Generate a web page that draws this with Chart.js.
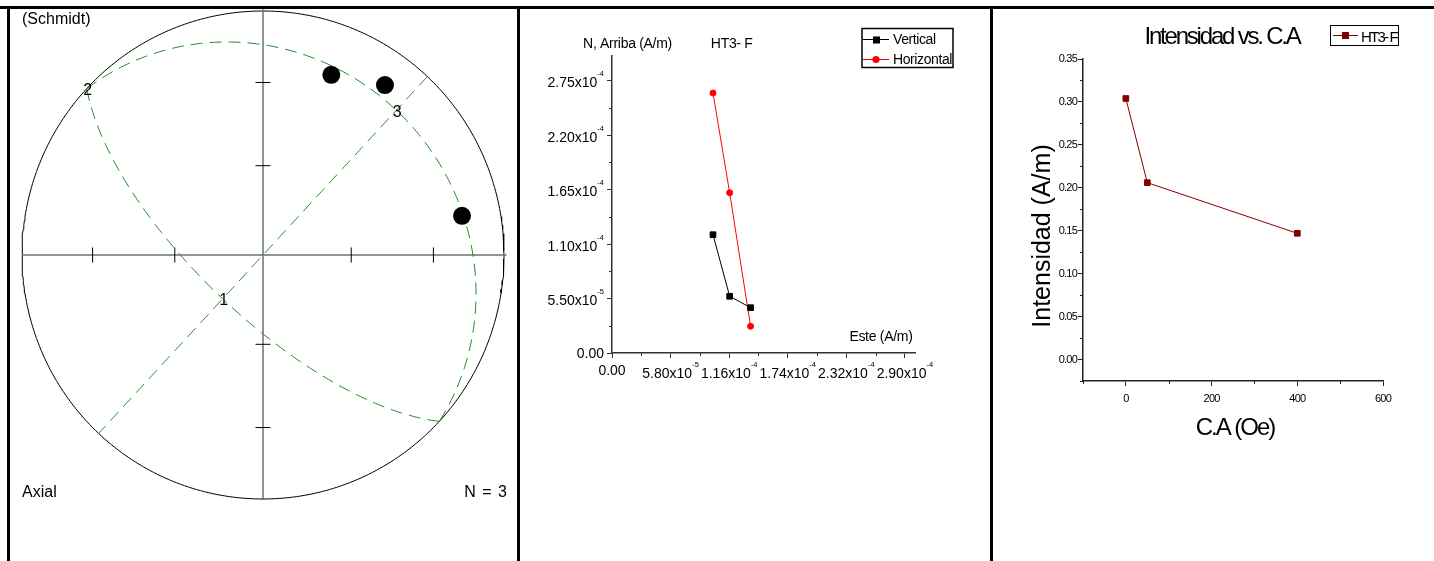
<!DOCTYPE html>
<html>
<head>
<meta charset="utf-8">
<title>HT3- F</title>
<script src="https://cdn.jsdelivr.net/npm/chart.js@4.4.1/dist/chart.umd.min.js"></script>
<style>
html,body{margin:0;padding:0;background:#fff;}
#wrap{position:relative;width:1434px;height:561px;overflow:hidden;background:#fff;}
#wrap canvas{position:absolute;left:0;top:0;}
.rule{position:absolute;background:#000;}
</style>
</head>
<body>
<div id="wrap">
  <canvas id="net" width="1434" height="561"></canvas>
  <canvas id="zij" width="1434" height="561"></canvas>
  <canvas id="int" width="1434" height="561"></canvas>
  <div class="rule" style="left:0;top:6px;width:1434px;height:3px"></div>
  <div class="rule" style="left:7px;top:6px;width:3px;height:555px"></div>
  <div class="rule" style="left:517px;top:6px;width:3px;height:555px"></div>
  <div class="rule" style="left:990px;top:6px;width:3px;height:555px"></div>
</div>
<script>
const FONT = '"Liberation Sans", Arial, Helvetica, sans-serif';

// ---------- Panel 1: Schmidt net (equal area, lower hemisphere, axial data) ----------
const lineTrends  = [21, 36, 79];
const linePlunges = [22, 15, 17];
const axisNames   = ['1', '2', '3'];
const axisTrends  = [223, 313, 43];
const axisPlunges = [70, 0, 20];
const netTickDips = [30, 60];
const netCount    = 'N = 3';

// ---------- Panel 2: Zijderveld diagram ----------
const zijEast   = [1.0e-4, 1.165e-4, 1.372e-4];
const zijUp     = [1.195e-4, 5.73e-5, 4.58e-5];
const zijNorth  = [2.626e-4, 1.619e-4, 2.70e-5];
const zijXTicks = [0, 5.8e-5, 1.16e-4, 1.74e-4, 2.32e-4, 2.9e-4];
const zijYTicks = [0, 5.5e-5, 1.1e-4, 1.65e-4, 2.2e-4, 2.75e-4];
const zijSeries = ['Vertical', 'Horizontal'];

// ---------- Panel 3: Intensity vs. AF ----------
const afSteps   = [0, 50, 400];
const intensity = [0.304, 0.206, 0.147];
const intXTicks = [0, 200, 400, 600];
const intYTicks = [0, 0.05, 0.10, 0.15, 0.20, 0.25, 0.30, 0.35];
const intSeries = 'HT3- F';

// ---------- helpers ----------
const deg = Math.PI / 180;
function proj(trend, plunge) {
  const r = Math.SQRT2 * Math.sin((90 - plunge) * deg / 2);
  return {x: r * Math.sin(trend * deg), y: r * Math.cos(trend * deg)};
}
function greatCircle(poleTrend, polePlunge) {
  const t = poleTrend * deg, p = polePlunge * deg;
  const a = [Math.cos(t + Math.PI / 2), Math.sin(t + Math.PI / 2), 0];
  const b = [Math.sin(p) * Math.cos(t + Math.PI), Math.sin(p) * Math.sin(t + Math.PI), Math.cos(p)];
  const pts = [];
  for (let i = 0; i <= 180; i++) {
    const th = i * deg, c = Math.cos(th), s = Math.sin(th);
    const n = a[0] * c + b[0] * s, e = a[1] * c + b[1] * s;
    const d = Math.max(0, Math.min(1, a[2] * c + b[2] * s));
    const h = Math.hypot(n, e), r = Math.sqrt(1 - d);
    pts.push(h < 1e-9 ? {x: 0, y: 0} : {x: e / h * r, y: n / h * r});
  }
  return pts;
}
function seg(points, color, width) {
  return {data: points, showLine: true, pointRadius: 0, borderColor: color, borderWidth: width, clip: false, tension: 0};
}
const mids = (arr, min, max) => {
  const step = arr[1] - arr[0];
  const out = [arr[0] - step / 2];
  arr.forEach(v => out.push(v + step / 2));
  return out.filter(v => v >= min - 1e-12 && v <= max + 1e-12);
};
function minorTicks(id, xs, ys, len, color) {
  return {id, afterDraw(chart) {
    const {ctx, scales: {x, y}, chartArea: a} = chart;
    ctx.save(); ctx.strokeStyle = color; ctx.lineWidth = 1; ctx.beginPath();
    xs.forEach(v => { const px = Math.round(x.getPixelForValue(v)) + 0.5; ctx.moveTo(px, a.bottom); ctx.lineTo(px, a.bottom + len); });
    ys.forEach(v => { const py = Math.round(y.getPixelForValue(v)) + 0.5; ctx.moveTo(a.left, py); ctx.lineTo(a.left - len, py); });
    ctx.stroke(); ctx.restore();
  }};
}

// ---------- Chart 1: stereonet ----------
const netDatasets = [];
netDatasets.push({data: lineTrends.map((t, i) => proj(t, linePlunges[i])), showLine: false,
  pointRadius: 9, pointBackgroundColor: '#000', pointBorderColor: '#000', pointBorderWidth: 0, clip: false});
axisTrends.forEach((t, i) => {
  netDatasets.push({data: greatCircle(t, axisPlunges[i]), showLine: true, pointRadius: 0,
    borderColor: '#1e8c1e', borderWidth: 1, borderDash: [12, 7], clip: false, tension: 0});
});
const tickHalf = 0.031;
netTickDips.forEach(d => {
  const r = proj(0, d).y;
  [r, -r].forEach(v => {
    netDatasets.push(seg([{x: v, y: -tickHalf}, {x: v, y: tickHalf}], '#000', 1));
    netDatasets.push(seg([{x: -tickHalf, y: v}, {x: tickHalf, y: v}], '#000', 1));
  });
});
netDatasets.push(seg([{x: -1, y: 0}, {x: 1.011, y: 0}], '#707070', 1.5));
netDatasets.push(seg([{x: 0, y: 1.007}, {x: 0, y: -1.004}], '#707070', 1.5));
netDatasets.push(seg(Array.from({length: 361}, (_, i) => ({x: Math.sin(i * deg), y: Math.cos(i * deg)})), '#000', 1));

const netText = {id: 'netText', afterDatasetsDraw(chart) {
  const {ctx, scales: {x, y}} = chart;
  ctx.save();
  ctx.fillStyle = '#000'; ctx.font = '16px ' + FONT; ctx.textAlign = 'center'; ctx.textBaseline = 'middle';
  axisNames.forEach((n, i) => {
    const p = proj(axisTrends[i], axisPlunges[i]);
    ctx.fillText(n, x.getPixelForValue(p.x) + 1, y.getPixelForValue(p.y) + 2);
  });
  ctx.textBaseline = 'alphabetic'; ctx.textAlign = 'left';
  ctx.fillText('(Schmidt)', 22, 24);
  ctx.fillText('Axial', 22, 497);
  ctx.textAlign = 'right'; ctx.wordSpacing = '2px';
  ctx.fillText(netCount, 507, 497);
  ctx.restore();
}};

new Chart(document.getElementById('net'), {
  type: 'scatter',
  data: {datasets: netDatasets},
  options: {
    responsive: false, animation: false, devicePixelRatio: 1, events: [],
    layout: {padding: {left: 22, right: 930, top: 11, bottom: 62}},
    plugins: {legend: {display: false}, tooltip: {enabled: false}},
    scales: {
      x: {type: 'linear', display: false, min: -1, max: 1},
      y: {type: 'linear', display: false, min: -1, max: 1}
    }
  },
  plugins: [netText]
});

// ---------- Chart 2: Zijderveld ----------
const ZF = 14;
function drawSci(ctx, x, y, v, align, axis) {
  let base, sup = '';
  if (v === 0) base = '0.00';
  else { const e = Math.floor(Math.log10(v) + 1e-9); base = (v / Math.pow(10, e)).toFixed(2) + 'x10'; sup = String(e); }
  ctx.font = ZF + 'px ' + FONT; const wb = ctx.measureText(base).width;
  ctx.font = '7.5px ' + FONT; const ws = sup ? ctx.measureText(sup).width : 0;
  const total = wb + ws;
  const x0 = align === 'right' ? x - total : x - total / 2;
  const bl = axis === 'y' ? y + (sup ? 6.7 : 5) : y + (sup ? 25 : 22);
  ctx.textAlign = 'left'; ctx.textBaseline = 'alphabetic';
  ctx.font = ZF + 'px ' + FONT; ctx.fillText(base, x0, bl);
  if (sup) { ctx.font = '7.5px ' + FONT; ctx.fillText(sup, x0 + wb, bl - 11); }
}
const zijText = {id: 'zijText', afterDraw(chart) {
  const {ctx, scales: {x, y}, chartArea: a} = chart;
  ctx.save(); ctx.fillStyle = '#000'; ctx.letterSpacing = '0px';
  zijYTicks.forEach(v => drawSci(ctx, a.left - 8, y.getPixelForValue(v), v, 'right', 'y'));
  zijXTicks.forEach(v => drawSci(ctx, x.getPixelForValue(v), a.bottom, v, 'center', 'x'));
  ctx.letterSpacing = '-0.3px';
  ctx.font = '14px ' + FONT; ctx.textBaseline = 'alphabetic'; ctx.textAlign = 'center';
  ctx.fillText('N, Arriba (A/m)', 627.5, 47.5);
  ctx.fillText('HT3- F', 731.7, 47.5);
  ctx.textAlign = 'right';
  ctx.fillText('Este (A/m)', 912.5, 341);
  // legend
  ctx.strokeStyle = '#000'; ctx.lineWidth = 1.5;
  ctx.strokeRect(862, 28.5, 91, 39);
  const ds = chart.data.datasets;
  [39, 59].forEach((ly, i) => {
    const d = ds[i];
    ctx.strokeStyle = d.borderColor; ctx.lineWidth = 1;
    ctx.beginPath(); ctx.moveTo(863, ly + 0.5); ctx.lineTo(889, ly + 0.5); ctx.stroke();
    ctx.fillStyle = d.backgroundColor;
    if (d.pointStyle === 'rect') ctx.fillRect(873, ly - 2.5, 7, 7);
    else { ctx.beginPath(); ctx.arc(876, ly + 0.5, 3.6, 0, 2 * Math.PI); ctx.fill(); }
    ctx.fillStyle = '#000'; ctx.textAlign = 'left'; ctx.letterSpacing = '-0.4px';
    ctx.fillText(d.label, 893, ly + 5);
  });
  ctx.restore();
}};
const zijAxis = (ticksArr, horiz, min, max) => ({
  type: 'linear', min, max,
  afterBuildTicks(s) { s.ticks = ticksArr.map(v => ({value: v})); },
  afterFit(s) { if (horiz) s.height = 0; else s.width = 0; },
  grid: {display: true, drawOnChartArea: false, drawTicks: true, tickLength: 5, color: '#333', lineWidth: 1},
  border: {display: true, color: '#333', width: 1.5},
  ticks: {display: false, autoSkip: false}
});
new Chart(document.getElementById('zij'), {
  type: 'scatter',
  data: {datasets: [
    {label: zijSeries[0], data: zijEast.map((e, i) => ({x: e, y: zijUp[i]})), showLine: true,
     borderColor: '#000', backgroundColor: '#000', borderWidth: 1, pointStyle: 'rect', pointRadius: 4,
     pointBorderWidth: 1, pointBorderColor: '#000', pointBackgroundColor: '#000', tension: 0},
    {label: zijSeries[1], data: zijEast.map((e, i) => ({x: e, y: zijNorth[i]})), showLine: true,
     borderColor: '#ff0000', backgroundColor: '#ff0000', borderWidth: 1, pointStyle: 'circle', pointRadius: 3,
     pointBorderWidth: 1, pointBorderColor: '#ff0000', pointBackgroundColor: '#ff0000', tension: 0}
  ]},
  options: {
    responsive: false, animation: false, devicePixelRatio: 1, events: [],
    layout: {padding: {left: 612, top: 56, right: 1434 - 915, bottom: 561 - 353}},
    plugins: {legend: {display: false}, tooltip: {enabled: false}},
    scales: {x: zijAxis(zijXTicks, true, 0, 3e-4), y: zijAxis(zijYTicks, false, 0, 3e-4)}
  },
  plugins: [minorTicks('zijMinor', mids(zijXTicks, 0, 3e-4).filter(v => !zijXTicks.some(t => Math.abs(t - v) < 1e-9)), mids(zijYTicks, 0, 3e-4).filter(v => !zijYTicks.some(t => Math.abs(t - v) < 1e-9)), 3, '#333'), zijText]
});

// ---------- Chart 3: Intensity vs C.A ----------
const Y_BOX = 45, X_BOX = 30;
const intSpacing = {id: 'intSpacing', beforeDraw(chart) { chart.ctx.letterSpacing = '-0.8px'; }};
const intText = {id: 'intText', afterDraw(chart) {
  const ctx = chart.ctx;
  ctx.save(); ctx.fillStyle = '#000'; ctx.textBaseline = 'alphabetic';
  ctx.font = '24px ' + FONT; ctx.letterSpacing = '-2.2px'; ctx.textAlign = 'center';
  ctx.fillText('Intensidad vs. C.A', 1222, 44);
  ctx.letterSpacing = '-2px';
  ctx.fillText('C.A (Oe)', 1235, 435);
  ctx.letterSpacing = '0px'; ctx.font = '25px ' + FONT;
  ctx.translate(1050, 236); ctx.rotate(-Math.PI / 2);
  ctx.fillText('Intensidad (A/m)', 0, 0);
  ctx.setTransform(1, 0, 0, 1, 0, 0);
  // legend
  const d = chart.data.datasets[0];
  ctx.strokeStyle = '#000'; ctx.lineWidth = 1; ctx.strokeRect(1330.5, 25.5, 68, 20);
  ctx.strokeStyle = d.borderColor; ctx.beginPath(); ctx.moveTo(1333, 35.5); ctx.lineTo(1358, 35.5); ctx.stroke();
  ctx.fillStyle = d.backgroundColor; ctx.fillRect(1342, 32, 7, 7);
  ctx.fillStyle = '#000'; ctx.textAlign = 'left'; ctx.font = '15px ' + FONT; ctx.letterSpacing = '-1.8px';
  ctx.fillText(d.label, 1361, 41.5);
  ctx.restore();
}};
const intAxis = (ticksArr, horiz, min, max, fmt, pad) => ({
  type: 'linear', min, max,
  afterBuildTicks(s) { s.ticks = ticksArr.map(v => ({value: v})); },
  afterFit(s) { if (horiz) s.height = X_BOX; else s.width = Y_BOX; },
  grid: {display: true, drawOnChartArea: false, drawTicks: true, tickLength: 5, color: '#222', lineWidth: 1},
  border: {display: true, color: '#222', width: 1.5},
  ticks: {display: true, autoSkip: false, maxRotation: 0, color: '#000', padding: pad,
          font: {family: FONT, size: 11}, callback: fmt}
});
new Chart(document.getElementById('int'), {
  type: 'scatter',
  data: {datasets: [
    {label: intSeries, data: afSteps.map((a, i) => ({x: a, y: intensity[i]})), showLine: true,
     borderColor: '#800000', backgroundColor: '#800000', borderWidth: 1, pointStyle: 'rect', pointRadius: 4,
     pointBorderWidth: 1, pointBorderColor: '#800000', pointBackgroundColor: '#800000', tension: 0}
  ]},
  options: {
    responsive: false, animation: false, devicePixelRatio: 1, events: [],
    layout: {padding: {left: 1083 - Y_BOX, top: 59, right: 1434 - 1383, bottom: 561 - 381 - X_BOX}},
    plugins: {legend: {display: false}, tooltip: {enabled: false}},
    scales: {
      x: intAxis(intXTicks, true, -100, 600, v => String(v), 6),
      y: intAxis(intYTicks, false, -0.025, 0.35, v => Number(v).toFixed(2), 1)
    }
  },
  plugins: [intSpacing, minorTicks('intMinor', mids(intXTicks, -100, 600), mids(intYTicks, -0.025, 0.35), 3, '#222'), intText]
});
</script>
</body>
</html>
